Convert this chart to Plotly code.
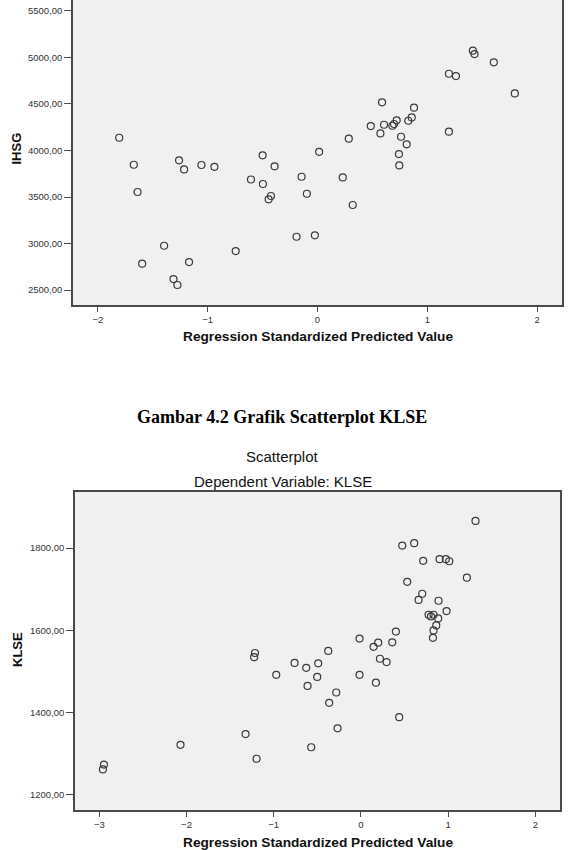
import plotly.graph_objects as go

# ---- Data: IHSG scatter (top chart) ----
ihsg_x = [-1.806, -1.673, -1.261, -1.215, -1.057, -0.939, -0.606, -0.500, -0.391,
          1.415, 1.430, 1.606, 1.197, 1.261, 1.797, 0.588, 0.879, 0.858, 0.827,
          0.721, 0.697, 0.682, 0.606, 0.485, 0.573, 1.197, 0.761, 0.285, 0.812,
          0.015, 0.742, 0.745, -0.145, 0.230, -1.639, -0.497, -0.424, -0.445,
          -1.397, -1.597, -1.170, -0.745, -1.312, -1.276, -0.097, 0.321, -0.191, -0.024]
ihsg_y = [4137, 3847, 3894, 3797, 3844, 3825, 3688, 3948, 3830,
          5073, 5037, 4948, 4825, 4800, 4614, 4518, 4460, 4356, 4320,
          4324, 4285, 4266, 4277, 4263, 4184, 4202, 4148, 4127, 4066,
          3986, 3962, 3840, 3718, 3711, 3554, 3640, 3511, 3475,
          2976, 2783, 2801, 2919, 2618, 2554, 3535, 3414, 3073, 3088]

# ---- Data: KLSE scatter (bottom chart) ----
klse_x = [1.314, 0.474, 0.611, 0.714, 0.902, 0.974, 1.013, 1.215, 0.531, 0.703,
          0.661, 0.890, 0.982, 0.776, 0.803, 0.833, 0.886, 0.864, 0.833, 0.826,
          0.401, 0.359, -0.016, 0.198, 0.145, -0.375, -0.761, -0.490, -0.627, 0.218,
          0.294, -0.501, -0.612, -0.016, 0.172, -0.283, -0.364, 0.439, -0.268, -0.570,
          -1.215, -1.225, -0.971, -1.323, -2.069, -1.197, -2.947, -2.959]
klse_y = [1866, 1806, 1812, 1769, 1773, 1773, 1768, 1728, 1718, 1689,
          1674, 1672, 1647, 1638, 1634, 1638, 1629, 1612, 1600, 1582,
          1597, 1571, 1580, 1570, 1560, 1550, 1521, 1520, 1509, 1531,
          1523, 1487, 1465, 1492, 1473, 1449, 1424, 1389, 1362, 1316,
          1545, 1535, 1492, 1348, 1322, 1288, 1274, 1262]

# ---- Tick labels ----
ihsg_ticks = [2500, 3000, 3500, 4000, 4500, 5000, 5500]
ihsg_ticktext = ["2500,00", "3000,00", "3500,00", "4000,00", "4500,00", "5000,00", "5500,00"]
klse_ticks = [1200, 1400, 1600, 1800]
klse_ticktext = ["1200,00", "1400,00", "1600,00", "1800,00"]
top_xticks = [-2, -1, 0, 1, 2]
bot_xticks = [-3, -2, -1, 0, 1, 2]

W, H = 571, 850
def py(p):
    return 1 - p / H
def px(p):
    return p / W

frame = "#4a4a4a"
tickfont = dict(family="Liberation Sans, Arial", size=9.5, color="#333333")
marker = dict(symbol="circle-open", size=7, line=dict(width=1.2, color="#3a3a3a"), color="#3a3a3a")

fig = go.Figure()
fig.add_trace(go.Scatter(x=ihsg_x, y=ihsg_y, mode="markers", marker=marker,
                         xaxis="x", yaxis="y", showlegend=False))
fig.add_trace(go.Scatter(x=klse_x, y=klse_y, mode="markers", marker=marker,
                         xaxis="x2", yaxis="y2", showlegend=False))

common_axis = dict(showgrid=False, zeroline=False, showline=True, linecolor=frame,
                   linewidth=1.5, ticks="outside", tickcolor=frame, tickwidth=1.2,
                   tickfont=tickfont)

fig.update_layout(
    width=W, height=H,
    margin=dict(l=0, r=0, t=0, b=0),
    paper_bgcolor="white",
    plot_bgcolor="#F0F0F0",
    xaxis=dict(domain=[px(73), px(562)], anchor="y", range=[-2.227, 2.227],
               tickvals=top_xticks, ticklen=5, mirror=False, **common_axis),
    yaxis=dict(domain=[py(305), 1.0], anchor="x", range=[2339, 5618],
               tickvals=ihsg_ticks, ticktext=ihsg_ticktext, ticklen=7, mirror=True,
               **common_axis),
    xaxis2=dict(domain=[px(75), px(560)], anchor="y2", range=[-3.279, 2.283],
                tickvals=bot_xticks, ticklen=5, mirror=True, **common_axis),
    yaxis2=dict(domain=[py(810), py(491.7)], anchor="x2", range=[1163.5, 1937],
                tickvals=klse_ticks, ticktext=klse_ticktext, ticklen=7, mirror=True,
                **common_axis),
)

bold = dict(family="Liberation Sans, Arial", size=13, color="#111111")
xbold = dict(family="Liberation Sans, Arial", size=13.7, color="#111111")
ann = [
    dict(text="<b>Regression Standardized Predicted Value</b>", x=px(318), y=py(336),
         font=xbold),
    dict(text="<b>IHSG</b>", x=px(15.5), y=py(149), textangle=-90, font=bold),
    dict(text="<b>Gambar 4.2 Grafik Scatterplot KLSE</b>", x=px(282), y=py(416.5),
         font=dict(family="Liberation Serif, Times New Roman", size=18, color="#000000")),
    dict(text="Scatterplot", x=px(282), y=py(457),
         font=dict(family="Liberation Sans, Arial", size=15, color="#111111")),
    dict(text="Dependent Variable: KLSE", x=px(282.5), y=py(481),
         font=dict(family="Liberation Sans, Arial", size=15, color="#111111")),
    dict(text="<b>KLSE</b>", x=px(17), y=py(650), textangle=-90, font=bold),
    dict(text="<b>Regression Standardized Predicted Value</b>", x=px(318), y=py(842),
         font=xbold),
]
for a in ann:
    fig.add_annotation(xref="paper", yref="paper", showarrow=False,
                       xanchor="center", yanchor="middle", **a)

fig.write_html("out.html")
